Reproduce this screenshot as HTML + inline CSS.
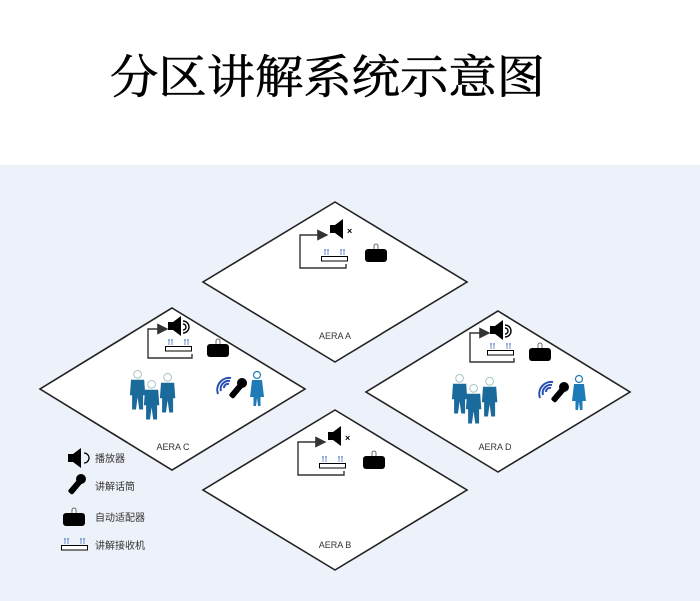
<!DOCTYPE html>
<html><head><meta charset="utf-8"><style>
html,body{margin:0;padding:0;width:700px;height:601px;overflow:hidden;background:#fff}
svg{display:block}
</style></head><body>
<svg width="700" height="601" viewBox="0 0 700 601" xmlns="http://www.w3.org/2000/svg">
<defs>
<g id="spk"><rect x="0" y="4" width="5" height="8" fill="#000"/><polygon points="5,4 13,-2 13,18 5,12" fill="#000"/></g>
<g id="rcv"><rect x="0.5" y="0.5" width="26" height="4.5" fill="#fff" stroke="#000" stroke-width="1"/>
<g fill="#6b8fc9"><circle cx="4" cy="-6" r="1"/><circle cx="7" cy="-6" r="1"/><circle cx="20" cy="-6" r="1"/><circle cx="23" cy="-6" r="1"/>
<rect x="3.5" y="-5" width="1" height="4"/><rect x="6.5" y="-5" width="1" height="4"/><rect x="19.5" y="-5" width="1" height="4"/><rect x="22.5" y="-5" width="1" height="4"/></g></g>
<g id="adp"><rect x="0" y="4" width="22" height="13" rx="3" fill="#000"/><path d="M9,4 V1 a2,2 0 0 1 4,0 V4" fill="#fff" stroke="#444" stroke-width="0.8"/></g>
<g id="man0" fill="#1a6a9c"><circle cx="6" cy="3" r="3.5" fill="#fff" stroke="#9bb" stroke-width="0.8"/><path d="M0,8 L12,8 L13,22 L11,22 L11,35 L7.5,35 L6,24 L4.5,35 L1,35 L1,22 L-1,22 Z"/></g>
<g id="man"><use href="#man0" transform="scale(1.1)"/></g>
<g id="mic"><rect x="-3" y="-8" width="6" height="16" rx="2" fill="#000" transform="rotate(40)"/><circle cx="6" cy="-8" r="5" fill="#000"/></g>
<g id="girl" fill="#1f7ab8"><circle cx="5" cy="3" r="3.5" fill="#fff" stroke="#1f7ab8" stroke-width="1.2"/><path d="M0,8 L10,8 L12,25 L8.5,25 L8.5,34 L6,34 L5,26 L4,34 L1.5,34 L1.5,25 L-2,25 Z"/></g>
<g id="waves" fill="none" stroke="#2a4fb0" stroke-width="2"><path d="M6,6 a4,4 0 0 1 5,-4"/><path d="M3,9 a8,8 0 0 1 9,-10"/><path d="M0,12 a12,12 0 0 1 13,-16"/></g>
<marker id="ar" markerWidth="8" markerHeight="8" refX="7" refY="4" orient="auto"><path d="M0,0 L8,4 L0,8 Z" fill="#333"/></marker>
<g id="zoneMute">
<path d="M24,43 V47 H-22 V14 H5" fill="none" stroke="#333" stroke-width="1.4" marker-end="url(#ar)"/>
<use href="#spk" x="8" y="0"/>
<text x="25" y="13" font-family="Liberation Sans,sans-serif" font-size="9" font-weight="bold">×</text>
<use href="#rcv" x="-1" y="35"/>
<use href="#adp" x="43" y="24"/>
</g>
<g id="zoneFull">
<path d="M24,36 V40 H-20 V11 H-1" fill="none" stroke="#333" stroke-width="1.4" marker-end="url(#ar)"/>
<use href="#spk" x="0" y="0"/>
<path d="M15,3 a6,6 0 0 1 0,12 M15,6 a3,3 0 0 1 0,6" fill="none" stroke="#000" stroke-width="1.4"/>
<use href="#rcv" x="-3" y="28"/>
<use href="#adp" x="39" y="22"/>
<use href="#man" x="-37" y="53"/>
<use href="#man" x="-7" y="56"/>
<use href="#man" x="-23" y="63"/>
<use href="#waves" x="50" y="64"/>
<use href="#mic" x="68" y="73"/>
<use href="#girl" x="84" y="54"/>
</g>
</defs>
<rect x="0" y="165" width="700" height="436" fill="#edf1f9"/>
<text x="110" y="93" font-family="Liberation Serif,'Noto Serif CJK SC',serif" font-size="46" fill="#000" stroke="#000" stroke-width="0.6" textLength="435" lengthAdjust="spacingAndGlyphs">分区讲解系统示意图</text>
<g fill="#fff" stroke="#222" stroke-width="1.6">
<polygon points="335,202 467,282 335,362 203,282"/>
<polygon points="172,308 305,389 172,470 40,389"/>
<polygon points="498,311 630,392 498,472 366,392"/>
<polygon points="335,410 467,490 335,570 203,490"/>
</g>
<use href="#zoneMute" x="322" y="221"/>
<use href="#zoneMute" x="320" y="428"/>
<use href="#zoneFull" x="168" y="318"/>
<use href="#zoneFull" x="490" y="322"/>
<g font-family="Liberation Sans,sans-serif" font-size="9" fill="#333" text-anchor="middle">
<text x="335" y="339">AERA A</text>
<text x="173" y="450">AERA C</text>
<text x="495" y="450">AERA D</text>
<text x="335" y="548">AERA B</text>
</g>
<use href="#spk" x="68" y="450"/>
<path d="M84,453 a5,5 0 0 1 0,10" fill="none" stroke="#000" stroke-width="1.3"/>
<use href="#mic" x="75" y="487"/>
<use href="#adp" x="63" y="509"/>
<use href="#rcv" x="61" y="545"/>
<g font-family="Liberation Sans,'Noto Sans CJK SC',sans-serif" font-size="10" fill="#333">
<text x="95" y="462">播放器</text>
<text x="95" y="490">讲解话筒</text>
<text x="95" y="521">自动适配器</text>
<text x="95" y="549">讲解接收机</text>
</g>
</svg>
</body></html>
